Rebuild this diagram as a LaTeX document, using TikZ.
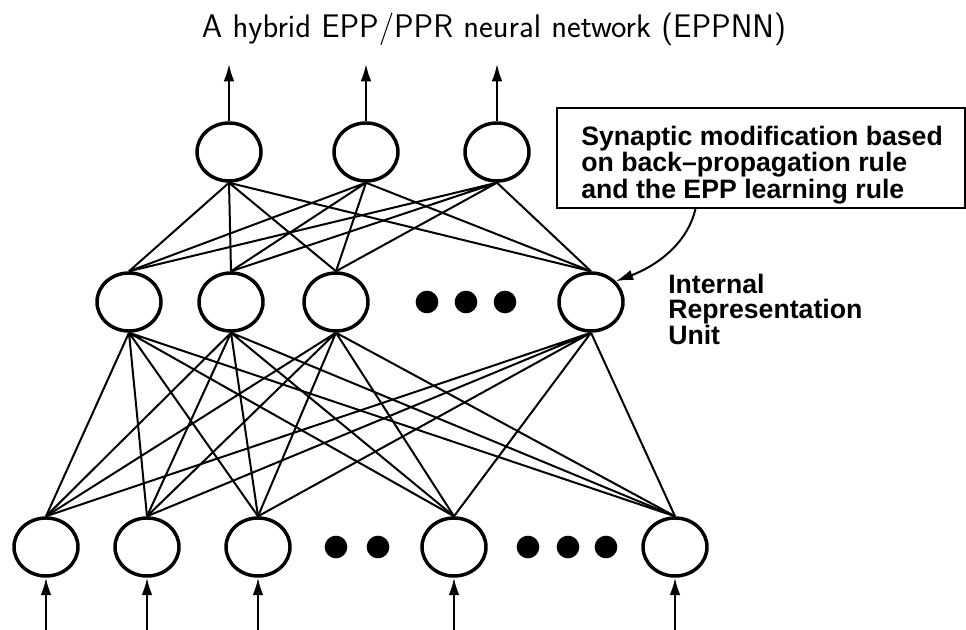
\documentclass[tikz,border=0pt]{standalone}
\usepackage{fontspec}
\newfontfamily\helvfont{Liberation Sans}
\usetikzlibrary{arrows.meta, positioning, shapes.geometric, calc}

\begin{document}
\begin{tikzpicture}[
    x=0.75pt, y=-0.75pt,
    unit/.style={draw, ellipse, line width=2.6pt, minimum width=48pt, minimum height=43.5pt, inner sep=0pt},
    ellipsis/.style={circle, fill, minimum size=17pt, inner sep=0pt},
    link/.style={line width=1.5pt},
    io/.style={line width=1.5pt, -{Latex[length=13pt, width=8pt]}},
    notebox/.style={draw, line width=1.5pt, minimum width=306pt, minimum height=75pt, inner sep=0pt},
    notetext/.style={font=\fontsize{20}{20}\helvfont\bfseries, align=left, inner sep=0pt},
]
\useasboundingbox (0,0) rectangle (966,630);

% Title
\node[font=\sffamily\fontsize{24.5}{28}\selectfont, anchor=base] (title) at (494,38) {A hybrid EPP/PPR neural network (EPPNN)};

% Output units
\node[unit] (o1) at (229,152) {};
\node[unit] (o2) at (366,152) {};
\node[unit] (o3) at (497,152) {};

% Internal representation units
\node[unit] (h1) at (129,302) {};
\node[unit] (h2) at (231,302) {};
\node[unit] (h3) at (336,302) {};
\node[ellipsis] (hd1) at (427,302) {};
\node[ellipsis] (hd2) at (466,302) {};
\node[ellipsis] (hd3) at (505,302) {};
\node[unit] (h4) at (591,302) {};

% Input units
\node[unit] (i1) at (46,547) {};
\node[unit] (i2) at (147,547) {};
\node[unit] (i3) at (258,547) {};
\node[ellipsis] (id1) at (336,547) {};
\node[ellipsis] (id2) at (378,547) {};
\node[unit] (i4) at (454,547) {};
\node[ellipsis] (id3) at (528,547) {};
\node[ellipsis] (id4) at (568,547) {};
\node[ellipsis] (id5) at (606,547) {};
\node[unit] (i5) at (675,547) {};

% Output to internal links
\draw[link] (o1.south) -- (h1.north) (o1.south) -- (h2.north) (o1.south) -- (h3.north) (o1.south) -- (h4.north);
\draw[link] (o2.south) -- (h1.north) (o2.south) -- (h2.north) (o2.south) -- (h3.north) (o2.south) -- (h4.north);
\draw[link] (o3.south) -- (h1.north) (o3.south) -- (h2.north) (o3.south) -- (h3.north) (o3.south) -- (h4.north);

% Internal to input links
\draw[link] (h1.south) -- (i1.north) (h1.south) -- (i2.north) (h1.south) -- (i3.north) (h1.south) -- (i4.north) (h1.south) -- (i5.north);
\draw[link] (h2.south) -- (i1.north) (h2.south) -- (i2.north) (h2.south) -- (i3.north) (h2.south) -- (i4.north) (h2.south) -- (i5.north);
\draw[link] (h3.south) -- (i1.north) (h3.south) -- (i2.north) (h3.south) -- (i3.north) (h3.south) -- (i4.north) (h3.south) -- (i5.north);
\draw[link] (h4.south) -- (i1.north) (h4.south) -- (i2.north) (h4.south) -- (i3.north) (h4.south) -- (i4.north) (h4.south) -- (i5.north);

% Outputs
\coordinate[above=43pt of o1.north] (t1);
\coordinate[above=43pt of o2.north] (t2);
\coordinate[above=43pt of o3.north] (t3);
\draw[io] (o1.north) -- (t1);
\draw[io] (o2.north) -- (t2);
\draw[io] (o3.north) -- (t3);

% Inputs
\coordinate[below=41pt of i1.south] (s1);
\coordinate[below=41pt of i2.south] (s2);
\coordinate[below=41pt of i3.south] (s3);
\coordinate[below=41pt of i4.south] (s4);
\coordinate[below=41pt of i5.south] (s5);
\draw[io] (s1) -- (i1.south);
\draw[io] (s2) -- (i2.south);
\draw[io] (s3) -- (i3.south);
\draw[io] (s4) -- (i4.south);
\draw[io] (s5) -- (i5.south);

% Note on learning rule
\node[notebox] (note) at (761,158) {};
\node[notetext, anchor=north west] (notetxt) at (581,125.5) {Synaptic modification based\\on back–propagation rule\\and the EPP learning rule};
\coordinate (notefoot) at ($(note.south west)!0.34!(note.south east)$);
\draw[io] (notefoot) .. controls +(-8,35) and +(40,-15) .. (h4.40);

% Label
\node[notetext, font=\fontsize{20}{18.5}\helvfont\bfseries, anchor=north west] (irutxt) at (668,274) {Internal\\Representation\\Unit};

\end{tikzpicture}
\end{document}
